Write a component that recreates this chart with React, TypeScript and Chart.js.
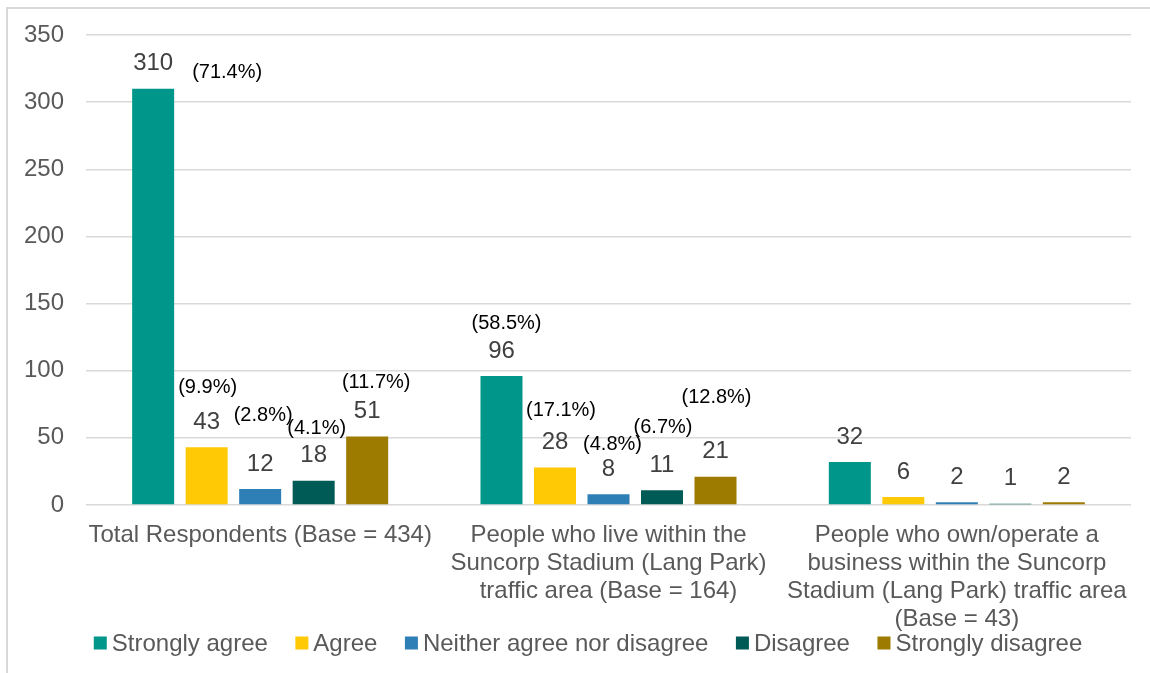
import React, { useEffect, useRef } from "react";
import { Chart, registerables } from "chart.js";

Chart.register(...registerables);

const categories: string[][] = [
  ["Total Respondents (Base = 434)"],
  ["People who live within the", "Suncorp Stadium (Lang Park)", "traffic area (Base = 164)"],
  ["People who own/operate a", "business within the Suncorp", "Stadium (Lang Park) traffic area", "(Base = 43)"],
];

const seriesNames = ["Strongly agree", "Agree", "Neither agree nor disagree", "Disagree", "Strongly disagree"];
const seriesColors = ["#00968A", "#FFCA05", "#2F7FB7", "#005B57", "#9D7B00"];

const stronglyAgree = [310, 96, 32];
const agree = [43, 28, 6];
const neither = [12, 8, 2];
const disagree = [18, 11, 1];
const stronglyDisagree = [51, 21, 2];

const stronglyAgreePct = ["(71.4%)", "(58.5%)", ""];
const agreePct = ["(9.9%)", "(17.1%)", ""];
const neitherPct = ["(2.8%)", "(4.8%)", ""];
const disagreePct = ["(4.1%)", "(6.7%)", ""];
const stronglyDisagreePct = ["(11.7%)", "(12.8%)", ""];

const yTicks = [0, 50, 100, 150, 200, 250, 300, 350];

// label placement offsets (pixels) for percentage annotations, relative to value label
const pctOffsets: [number, number][][] = [
  [[74, 9], [5, -28], [0, 0]],
  [[1, -35], [6, -32], [0, 0]],
  [[3, -48], [4, -25], [0, 0]],
  [[3, -27], [1, -38], [0, 0]],
  [[9, -29], [1, -54], [0, 0]],
];

const allValues = [stronglyAgree, agree, neither, disagree, stronglyDisagree];
const allPcts = [stronglyAgreePct, agreePct, neitherPct, disagreePct, stronglyDisagreePct];

const FONT = "'Liberation Sans', Arial, sans-serif";

const labelPlugin = {
  id: "labels",
  beforeDraw(chart: any) {
    const ctx = chart.ctx;
    ctx.save();
    ctx.strokeStyle = "#d9d9d9";
    ctx.lineWidth = 2;
    ctx.beginPath();
    ctx.moveTo(1, chart.height);
    ctx.lineTo(1, 1);
    ctx.lineTo(chart.width, 1);
    ctx.stroke();
    ctx.restore();
  },
  afterDatasetsDraw(chart: any) {
    const ctx = chart.ctx;
    ctx.save();
    ctx.textAlign = "center";
    ctx.textBaseline = "middle";
    chart.data.datasets.forEach((ds: any, di: number) => {
      const meta = chart.getDatasetMeta(di);
      meta.data.forEach((bar: any, i: number) => {
        const vx = bar.x;
        const vy = bar.y - 25;
        ctx.fillStyle = "#404040";
        ctx.font = `24px ${FONT}`;
        ctx.fillText(String(ds.data[i]), vx, vy);
        const p = allPcts[di][i];
        if (p) {
          const [dx, dy] = pctOffsets[di][i];
          ctx.fillStyle = "#000000";
          ctx.font = `20px ${FONT}`;
          ctx.fillText(p, vx + dx, vy + dy);
        }
      });
    });
    ctx.restore();
  },
  afterDraw(chart: any) {
    // legend
    const ctx = chart.ctx;
    ctx.save();
    ctx.font = `24px ${FONT}`;
    ctx.textBaseline = "middle";
    ctx.textAlign = "left";
    const box = 13;
    const gap = 5;
    const spacing = 27.5;
    const items = chart.data.datasets.map((ds: any) => ({
      label: ds.label,
      color: ds.backgroundColor,
      w: box + gap + ctx.measureText(ds.label).width,
    }));
    const total = items.reduce((s: number, it: any) => s + it.w, 0) + spacing * (items.length - 1);
    const cy = 636;
    let x = 582 - total / 2;
    items.forEach((it: any) => {
      ctx.fillStyle = it.color;
      ctx.fillRect(x, cy - box / 2, box, box);
      ctx.fillStyle = "#595959";
      ctx.fillText(it.label, x + box + gap, cy + 1);
      x += it.w + spacing;
    });
    ctx.restore();
  },
};

export default function App() {
  const ref = useRef<HTMLCanvasElement>(null);
  useEffect(() => {
    if (!ref.current) return;
    const chart = new Chart(ref.current, {
      type: "bar",
      data: {
        labels: categories,
        datasets: seriesNames.map((name, i) => ({
          label: name,
          data: allValues[i],
          backgroundColor: seriesColors[i],
          borderWidth: 0,
          categoryPercentage: 0.768,
          barPercentage: 0.785,
        })),
      },
      options: {
        responsive: false,
        animation: false,
        maintainAspectRatio: false,
        layout: { padding: { left: 0, right: 19, top: 28, bottom: 0 } },
        plugins: {
          tooltip: { enabled: false },
          legend: { display: false },
        },
        scales: {
          x: {
            grid: { display: false, drawTicks: false },
            border: { display: false },
            ticks: {
              color: "#595959",
              font: { family: FONT, size: 24, lineHeight: 1.17 },
              padding: 16,
              maxRotation: 0,
              autoSkip: false,
            },
            afterFit(scale: any) {
              scale.height = 168;
              scale.paddingLeft = 0;
              scale.paddingRight = 0;
            },
          },
          y: {
            min: 0,
            max: 350,
            afterBuildTicks(scale: any) {
              scale.ticks = yTicks.map((v) => ({ value: v }));
            },
            grid: { color: "#d9d9d9", lineWidth: 1.5, drawTicks: false },
            border: { display: false },
            ticks: {
              color: "#595959",
              font: { family: FONT, size: 24 },
              padding: 22,
            },
            afterFit(scale: any) {
              scale.width = 80;
              scale.paddingTop = 0;
              scale.paddingBottom = 0;
            },
          },
        },
      },
      plugins: [labelPlugin],
    });
    return () => chart.destroy();
  }, []);
  return (
    <div style={{ position: "absolute", left: 6, top: 7, width: 1144, height: 666 }}>
      <canvas ref={ref} width={1144} height={666} style={{ display: "block" }} />
    </div>
  );
}
